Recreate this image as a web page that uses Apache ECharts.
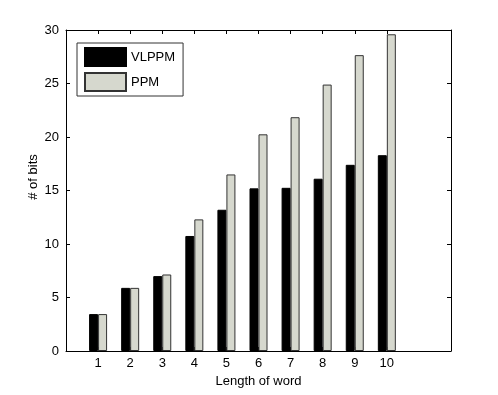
<!DOCTYPE html>
<html>
<head>
<meta charset="utf-8">
<script src="https://cdn.jsdelivr.net/npm/echarts@6/dist/echarts.min.js"></script>
<style>html,body{margin:0;padding:0;background:#fff;}#c{width:498px;height:395px;}</style>
</head>
<body>
<div id="c"></div>
<script>
var wordLengths = [1, 2, 3, 4, 5, 6, 7, 8, 9, 10];
var vlppm = [3.45, 5.9, 7.0, 10.75, 13.2, 15.2, 15.25, 16.1, 17.4, 18.3];
var ppm = [3.45, 5.9, 7.15, 12.3, 16.5, 20.25, 21.85, 24.9, 27.65, 29.6];
var yTicks = [0, 5, 10, 15, 20, 25, 30];

var font = 'Liberation Sans, Arial, Helvetica, sans-serif';
var chart = echarts.init(document.getElementById('c'), null, {renderer: 'canvas'});
function pairs(vals) { return wordLengths.map(function (x, i) { return [x, vals[i]]; }); }

var tickStyle = {show: true, inside: true, length: 4, lineStyle: {color: '#000', width: 1}};
var lineStyle = {show: true, onZero: false, lineStyle: {color: '#000', width: 1}};
chart.setOption({
  animation: false,
  backgroundColor: '#fff',
  grid: {left: 66, right: 47, top: 30, bottom: 44, containLabel: false},
  legend: {
    orient: 'vertical', left: 77, top: 43,
    itemWidth: 41, itemHeight: 18, itemGap: 5,
    padding: [4, 8, 4, 7],
    borderColor: '#333', borderWidth: 1, backgroundColor: '#fff',
    icon: 'rect',
    textStyle: {fontFamily: font, fontSize: 13, color: '#000'},
    data: ['VLPPM', 'PPM']
  },
  graphic: [{
    type: 'text', x: 33, y: 177, rotation: Math.PI / 2,
    style: {text: '# of bits', fontFamily: font, fontSize: 13, fill: '#000', align: 'center', verticalAlign: 'middle'}
  }],
  xAxis: [{
    type: 'value', min: 0, max: 12, interval: 1, position: 'bottom',
    name: 'Length of word', nameLocation: 'middle', nameGap: 22,
    nameTextStyle: {fontFamily: font, fontSize: 13, color: '#000'},
    axisLine: lineStyle,
    axisTick: Object.assign({customValues: wordLengths}, tickStyle),
    axisLabel: {customValues: wordLengths, fontFamily: font, fontSize: 13, color: '#000', margin: 6},
    splitLine: {show: false}
  }, {
    type: 'value', min: 0, max: 12, interval: 1, position: 'top',
    axisLine: lineStyle,
    axisTick: Object.assign({customValues: wordLengths}, tickStyle),
    axisLabel: {show: false},
    splitLine: {show: false}
  }],
  yAxis: [{
    type: 'value', min: 0, max: 30, interval: 5, position: 'left',
    axisLine: lineStyle,
    axisTick: tickStyle,
    axisLabel: {fontFamily: font, fontSize: 13, color: '#000', margin: 7},
    splitLine: {show: false}
  }, {
    type: 'value', min: 0, max: 30, interval: 5, position: 'right',
    axisLine: lineStyle,
    axisTick: tickStyle,
    axisLabel: {show: false},
    splitLine: {show: false}
  }],
  series: [{
    name: 'VLPPM', type: 'bar', xAxisIndex: 0, yAxisIndex: 0,
    barWidth: 9, barGap: '0%',
    itemStyle: {color: '#000', borderColor: '#000', borderWidth: 1},
    data: pairs(vlppm)
  }, {
    name: 'PPM', type: 'bar', xAxisIndex: 0, yAxisIndex: 0,
    barWidth: 9, barGap: '0%',
    itemStyle: {color: '#d6d8ce', borderColor: '#333', borderWidth: 1},
    data: pairs(ppm)
  }]
});
</script>
</body>
</html>
